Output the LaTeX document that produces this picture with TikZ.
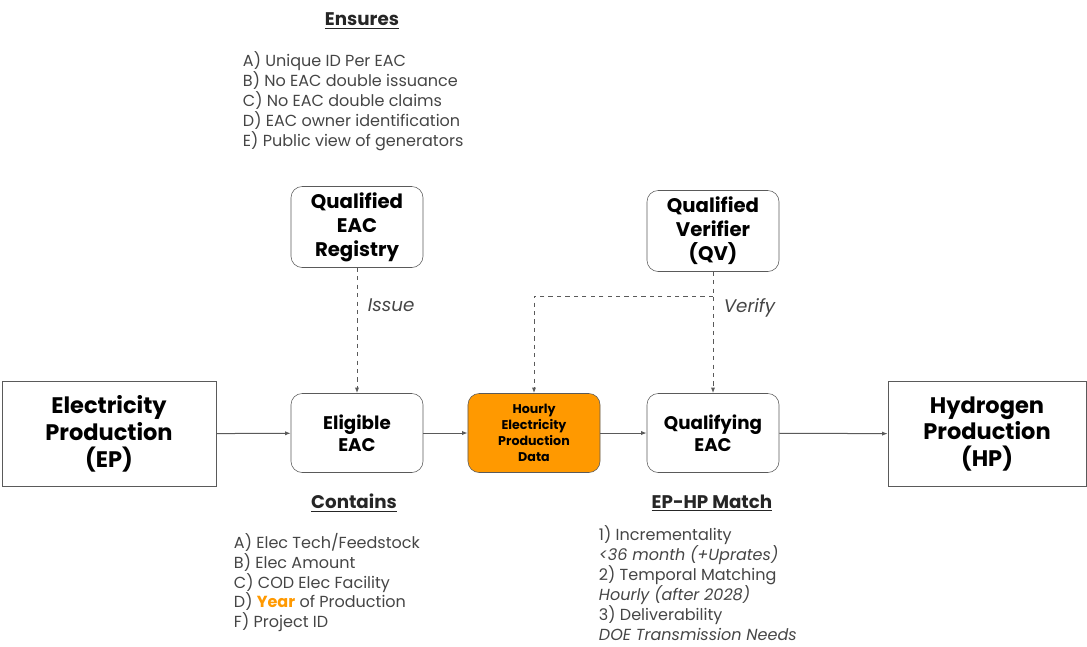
\documentclass[tikz,border=0pt]{standalone}
\usepackage{fontspec}
\setmainfont{Poppins}
\usetikzlibrary{positioning,arrows.meta}
\definecolor{hourlyorange}{HTML}{FF9900}
\definecolor{txtgray}{HTML}{454545}
\definecolor{linegray}{HTML}{5A5A5A}
\newcommand{\heading}[1]{\textbf{\underline{#1}}}

\begin{document}
\begin{tikzpicture}
[x=0.025cm,y=-0.025cm,
edge/.style={linegray,-{Latex[length=4pt,width=3pt]}, line width=.25mm},
dashedge/.style={edge,dashed},
bigbox/.style={draw=linegray,thin,minimum width=5.35cm,minimum height=2.625cm,align=center,font=\fontsize{16}{19}\selectfont\bfseries},
block/.style={draw=linegray,thin,rounded corners=8pt,minimum width=3.3cm,minimum height=1.975cm,align=center,font=\fontsize{13}{15.6}\selectfont\bfseries},
lst/.style={anchor=north west,align=left,text=txtgray,font=\fontsize{11.4}{14.2}\selectfont},
hd/.style={font=\fontsize{13}{15}\selectfont,text=black!85}]
\useasboundingbox (0,0) rectangle (1087,646);
%% main row
\node (ep) [bigbox] at (109,434) {Electricity\\Production\\(EP)};
\node (elig) [block] at (357,433) {Eligible\\EAC};
\node (hourly) [block,fill=hourlyorange,font=\fontsize{9}{11.4}\selectfont\bfseries] at (534,433) {Hourly\\Electricity\\Production\\Data};
\node (qual) [block] at (713,433) {Qualifying\\EAC};
\node (hp) [bigbox,minimum width=4.95cm] at (987,434) {Hydrogen\\Production\\(HP)};
%% top row
\node (reg) [block,minimum height=2.025cm,font=\fontsize{14}{17}\selectfont\bfseries] at (357,227) {Qualified\\EAC\\Registry};
\node (qv) [block,minimum height=2.025cm,font=\fontsize{14}{17}\selectfont\bfseries] at (713,231) {Qualified\\Verifier\\(QV)};
%%
\draw[edge] (ep) -- (elig);
\draw[edge] (elig) -- (hourly);
\draw[edge] (hourly) -- (qual);
\draw[edge] (qual) -- (hp);
\draw[dashedge] (reg) -- node[right,text=txtgray,font=\fontsize{13}{15}\selectfont\itshape,xshift=4pt,pos=.3] {Issue} (elig);
\draw[dashedge] (qv) -- node[right,text=txtgray,font=\fontsize{13}{15}\selectfont\itshape,xshift=4pt,pos=.3] {Verify} (qual);
\coordinate (split) at (713,296);
\draw[dashedge] (split) -| (hourly);
%% texts
\node (ensures) [hd] at (362,21) {\heading{Ensures}};
\node (enslist) [lst] at (238,47) {A) Unique ID Per EAC\\B) No EAC double issuance\\C) No EAC double claims\\D) EAC owner identification\\E) Public view of generators};
\node (contains) [hd] at (354,503) {\heading{Contains}};
\node (contlist) [lst] at (229,528) {A) Elec Tech/Feedstock\\B) Elec Amount\\C) COD Elec Facility\\D) \textcolor{hourlyorange}{\bfseries Year} of Production\\F) Project ID};
\node (match) [hd] at (712,503) {\heading{EP-HP Match}};
\node (matchlist) [lst] at (594,521) {1) Incrementality\\\textit{<36 month (+Uprates)}\\2) Temporal Matching\\\textit{Hourly (after 2028)}\\3) Deliverability\\\textit{DOE Transmission Needs}};
\end{tikzpicture}
\end{document}
